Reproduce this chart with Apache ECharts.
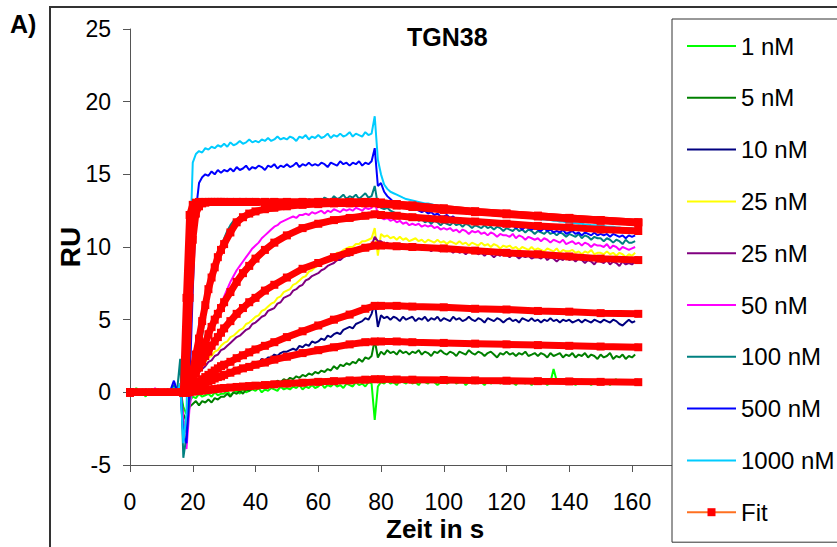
<!DOCTYPE html>
<html>
<head>
<meta charset="utf-8">
<script src="https://cdn.jsdelivr.net/npm/echarts@6/dist/echarts.min.js"></script>
<style>
html,body{margin:0;padding:0;background:#fff;}
#chart{width:837px;height:547px;}
</style>
</head>
<body>
<div id="chart"></div>
<script>
// time grid of the sensorgram (1 s sampling), x in seconds
const dataTimes = Array.from({length:162}, (_, i) => i);

// RU values, one per second, t = 0..161
const ru1nM = [
0.1,-0.2,0.3,-0.1,0.0,-0.3,0.2,-0.1,0.1,-0.2,
0.0,0.2,-0.2,0.1,-0.1,0.2,0.3,-1.0,-1.5,-0.6,
-0.3,-0.4,-0.1,-0.3,-0.2,-0.1,-0.3,0.0,-0.2,-0.1,
-0.1,0.1,-0.2,0.0,0.1,-0.1,0.2,0.0,0.1,0.2,
0.1,0.3,0.0,0.2,0.1,0.3,0.2,0.1,0.4,0.2,
0.3,0.2,0.4,0.3,0.5,0.2,0.4,0.3,0.5,0.3,
0.4,0.6,0.3,0.5,0.4,0.6,0.4,0.5,0.3,0.6,
0.5,0.4,0.7,0.5,0.6,0.4,0.7,0.6,-1.9,0.4,
0.7,0.6,0.8,0.6,0.7,0.5,0.8,0.7,0.6,0.8,
0.6,0.7,0.5,0.8,0.7,0.6,0.9,0.7,0.5,0.7,
0.8,0.6,0.7,0.9,0.6,0.7,0.8,0.5,0.7,0.8,
0.6,0.8,0.7,0.5,0.8,0.6,0.7,0.9,0.6,0.7,
0.8,0.6,0.7,0.5,0.8,0.7,0.6,0.8,0.5,0.7,
0.6,0.8,0.7,0.5,0.7,1.6,0.8,0.6,0.9,0.7,
0.6,0.8,0.5,0.7,0.9,0.6,0.7,0.5,0.8,0.7,
0.6,0.8,0.7,0.5,0.8,0.9,0.6,0.7,0.8,0.6,
0.7,0.8];
const ru5nM = [
-0.1,0.2,0.0,-0.2,0.1,-0.1,0.2,0.0,-0.2,0.1,
-0.1,0.1,-0.2,0.0,0.2,-0.1,0.4,-1.5,-2.0,-1.0,
-0.8,-0.6,-0.9,-0.6,-0.7,-0.5,-0.7,-0.4,-0.5,-0.3,
-0.3,-0.1,-0.3,0.0,-0.1,0.1,-0.1,0.2,0.1,0.3,
0.3,0.5,0.3,0.6,0.5,0.7,0.6,0.8,0.7,0.9,
0.8,1.0,0.9,1.1,1.0,1.2,1.1,1.3,1.2,1.4,
1.3,1.5,1.4,1.6,1.5,1.8,1.6,1.9,1.8,2.0,
1.9,2.1,2.0,2.3,2.1,2.4,2.3,2.5,3.6,2.4,
2.8,2.6,2.9,2.7,2.8,2.6,2.9,2.7,2.8,2.6,
2.8,2.7,2.9,2.6,2.8,2.7,2.5,2.8,2.7,2.9,
2.7,2.6,2.8,2.7,2.5,2.8,2.7,2.6,2.9,2.7,
2.6,2.8,2.7,2.5,2.7,2.8,2.6,2.4,2.7,2.6,
2.8,2.6,2.7,2.5,2.7,2.6,2.8,2.5,2.6,2.7,
2.5,2.7,2.6,2.4,2.7,2.5,2.6,2.7,2.4,2.6,
2.5,2.7,2.4,2.6,2.5,2.7,2.4,2.6,2.5,2.3,
2.6,2.4,2.5,2.7,2.3,2.5,2.4,2.6,2.3,2.5,
2.4,2.6];
const ru10nM = [
0.0,-0.2,0.1,-0.1,0.2,0.0,-0.2,0.1,-0.1,0.2,
0.0,-0.1,0.2,-0.1,0.6,0.1,0.5,-2.0,-2.5,0.0,
0.5,0.7,0.9,0.8,1.0,1.1,0.9,1.2,1.1,1.3,
1.4,1.3,1.5,1.6,1.5,1.7,1.8,1.7,1.9,2.0,
2.1,2.0,2.3,2.2,2.4,2.4,2.6,2.5,2.7,2.8,
2.8,2.9,3.0,2.9,3.2,3.1,3.3,3.2,3.5,3.4,
3.5,3.7,3.6,3.9,3.8,4.0,4.1,4.0,4.3,4.4,
4.5,4.4,4.7,4.8,4.9,5.1,5.0,5.4,6.2,4.5,
5.3,5.1,5.2,5.0,5.2,5.1,4.9,5.2,5.0,5.1,
5.2,4.9,5.1,5.0,5.2,4.9,5.1,5.0,5.2,4.9,
5.1,5.0,4.9,5.2,5.0,5.1,4.9,5.0,5.2,5.0,
4.9,5.1,5.0,4.8,5.1,5.0,4.9,5.1,5.0,4.8,
5.0,5.1,4.9,5.0,4.8,5.1,5.0,4.9,5.1,4.9,
5.0,4.8,5.0,4.9,5.1,4.9,5.0,4.8,5.0,4.9,
5.0,4.8,4.9,5.0,4.8,5.0,4.9,4.8,5.0,4.9,
4.8,5.0,4.9,4.8,5.0,4.9,4.7,4.6,4.8,5.0,
4.8,4.9];
const ru25nMa = [
0.1,-0.1,0.2,0.0,-0.2,0.1,0.0,0.2,-0.1,0.1,
0.0,0.2,-0.1,0.1,0.4,0.0,0.6,-2.0,-2.5,0.2,
1.2,1.4,1.6,1.9,2.1,2.4,2.5,2.8,2.9,3.2,
3.4,3.5,3.8,3.9,4.1,4.3,4.4,4.7,4.8,5.0,
5.2,5.3,5.6,5.7,5.9,6.1,6.2,6.5,6.6,6.9,
7.0,7.1,7.4,7.5,7.7,7.9,8.0,8.3,8.4,8.6,
8.7,8.9,9.0,9.2,9.3,9.4,9.6,9.6,9.8,9.9,
10.0,10.0,10.2,10.2,10.4,10.4,10.5,10.6,11.3,9.4,
10.9,10.7,10.8,10.6,10.7,10.5,10.7,10.5,10.6,10.4,
10.5,10.6,10.4,10.5,10.3,10.5,10.4,10.3,10.5,10.3,
10.4,10.2,10.4,10.3,10.2,10.4,10.2,10.3,10.1,10.3,
10.2,10.1,10.3,10.1,10.2,10.0,10.2,10.1,9.9,10.1,
10.0,10.1,9.9,10.0,9.8,10.0,9.9,9.8,10.0,9.8,
9.9,9.8,9.7,9.9,9.8,9.7,9.9,9.6,9.8,9.7,
9.7,9.8,9.6,9.7,9.5,9.7,9.6,9.8,9.5,9.6,
9.6,9.5,9.7,9.5,9.6,9.4,9.6,9.5,9.3,9.5,
9.4,9.6];
const ru25nMb = [
-0.1,0.1,0.0,-0.2,0.1,0.0,-0.1,0.2,0.0,-0.1,
0.1,0.0,0.2,-0.1,0.3,0.1,0.5,-2.2,-2.8,-0.3,
0.9,1.1,1.4,1.6,1.8,2.1,2.2,2.5,2.6,2.9,
3.0,3.2,3.4,3.6,3.8,3.9,4.1,4.3,4.4,4.7,
4.8,5.0,5.2,5.3,5.6,5.7,5.8,6.1,6.2,6.5,
6.6,6.7,7.0,7.1,7.3,7.4,7.7,7.8,8.0,8.1,
8.2,8.4,8.5,8.7,8.8,8.9,9.1,9.1,9.3,9.4,
9.4,9.6,9.6,9.8,9.8,9.9,10.0,10.1,10.7,10.4,
10.4,10.2,10.3,10.1,10.2,10.0,10.2,10.0,10.1,9.9,
10.1,9.9,10.0,9.8,10.0,9.9,9.7,9.9,9.8,9.7,
9.9,9.7,9.8,9.6,9.8,9.6,9.7,9.5,9.7,9.6,
9.7,9.5,9.6,9.4,9.6,9.5,9.3,9.5,9.4,9.6,
9.5,9.3,9.5,9.4,9.2,9.4,9.3,9.4,9.2,9.3,
9.3,9.2,9.4,9.1,9.3,9.2,9.0,9.2,9.1,9.3,
9.1,9.2,9.0,9.2,9.1,8.9,9.1,9.0,8.8,9.1,
9.0,8.9,9.1,8.8,9.0,8.9,8.7,9.0,8.8,8.9,
8.8,9.0];
const ru50nM = [
0.2,0.0,-0.1,0.1,-0.2,0.2,0.0,-0.1,0.3,0.0,
-0.1,0.2,0.0,0.1,0.7,0.0,0.6,-2.0,-3.9,-1.0,
0.3,1.0,1.6,2.1,2.8,3.5,4.2,4.8,5.4,6.0,
6.6,7.1,7.6,8.0,8.4,8.7,9.0,9.3,9.6,9.9,
10.1,10.3,10.6,10.8,11.0,11.2,11.4,11.5,11.7,11.8,
11.9,12.0,12.1,12.0,12.2,12.2,12.3,12.2,12.4,12.3,
12.4,12.5,12.3,12.5,12.4,12.6,12.5,12.4,12.6,12.5,
12.6,12.5,12.7,12.6,12.5,12.7,12.6,12.7,13.2,12.2,
12.0,11.9,12.0,11.8,11.9,11.7,11.8,11.6,11.7,11.5,
11.6,11.5,11.6,11.4,11.5,11.4,11.5,11.3,11.4,11.2,
11.3,11.2,11.3,11.1,11.2,11.0,11.2,11.1,10.9,11.1,
11.0,11.1,10.9,11.0,10.8,11.0,10.9,10.7,10.9,10.8,
10.8,10.7,10.9,10.6,10.8,10.7,10.5,10.7,10.6,10.5,
10.6,10.4,10.6,10.5,10.3,10.5,10.4,10.3,10.5,10.2,
10.3,10.4,10.2,10.3,10.1,10.3,10.2,10.0,10.2,10.1,
10.1,10.0,10.2,9.9,10.1,10.0,9.8,10.0,9.9,9.8,
9.9,10.0];
const ru100nM = [
0.0,0.2,-0.1,0.1,0.0,-0.2,0.1,0.2,-0.1,0.0,
0.1,-0.1,0.2,0.0,0.5,0.1,2.3,-4.5,-3.0,-0.5,
0.4,1.2,2.5,3.9,5.4,6.7,7.9,8.7,9.4,10.0,
10.6,11.1,11.5,11.8,11.9,12.1,12.0,12.2,12.1,12.3,
12.4,12.3,12.5,12.6,12.5,12.7,12.6,12.8,12.7,12.9,
13.0,12.9,13.1,13.0,13.2,13.1,13.0,13.3,13.2,13.1,
13.3,13.2,13.4,13.3,13.2,13.5,13.3,13.4,13.6,13.3,
13.5,13.4,13.6,13.3,13.5,13.7,13.4,13.5,14.2,12.9,
12.7,12.6,12.7,12.5,12.4,12.3,12.2,12.2,12.0,12.1,
11.9,12.0,11.8,11.9,11.7,11.8,11.6,11.8,11.7,11.5,
11.7,11.6,11.5,11.7,11.5,11.6,11.4,11.6,11.5,11.3,
11.5,11.4,11.3,11.5,11.3,11.4,11.2,11.4,11.3,11.1,
11.3,11.2,11.1,11.3,11.1,11.2,11.0,11.2,11.1,10.9,
11.1,11.0,10.9,11.1,10.9,11.0,10.8,11.0,10.9,10.7,
10.9,10.8,10.7,10.9,10.6,10.8,10.7,10.5,10.7,10.6,
10.6,10.4,10.6,10.5,10.3,10.5,10.4,10.2,10.5,10.3,
10.3,10.4];
const ru500nM = [
0.1,-0.1,0.2,0.0,-0.1,0.2,0.1,-0.2,0.0,0.2,
-0.1,0.1,0.0,0.2,0.8,0.1,0.5,-3.0,-3.5,0.5,
7.0,12.5,14.4,14.8,15.0,14.9,15.2,15.0,15.3,15.1,
15.3,15.2,15.4,15.2,15.5,15.3,15.4,15.6,15.3,15.5,
15.4,15.6,15.5,15.3,15.6,15.5,15.7,15.4,15.6,15.5,
15.7,15.5,15.6,15.8,15.5,15.7,15.6,15.8,15.6,15.7,
15.6,15.8,15.7,15.5,15.8,15.7,15.6,15.9,15.7,15.8,
15.6,15.8,15.7,15.9,15.6,15.8,15.7,15.9,16.8,14.2,
14.4,13.8,13.5,13.3,13.1,13.0,12.9,12.8,12.7,12.7,
12.6,12.6,12.5,12.4,12.5,12.3,12.4,12.2,12.3,12.1,
12.1,12.2,12.0,12.1,11.9,12.0,11.9,11.8,11.9,11.7,
11.8,11.7,11.8,11.6,11.7,11.5,11.6,11.5,11.6,11.4,
11.5,11.4,11.5,11.3,11.4,11.2,11.4,11.3,11.2,11.3,
11.2,11.1,11.3,11.1,11.2,11.0,11.1,11.0,11.2,10.9,
11.0,11.1,10.9,11.0,10.8,11.0,10.9,10.8,11.0,10.8,
10.9,10.8,10.9,10.7,10.9,10.8,10.7,10.8,10.6,10.8,
10.7,10.8];
const ru1000nM = [
-0.1,0.1,0.0,-0.2,0.1,-0.1,0.0,0.1,-0.2,0.0,
0.1,-0.1,0.0,0.1,0.3,0.0,0.6,-3.5,-1.5,9.0,
15.8,16.4,16.6,16.5,16.8,16.7,16.9,16.8,17.0,16.9,
17.1,16.9,17.2,17.0,17.1,17.3,17.1,17.2,17.4,17.2,
17.3,17.2,17.4,17.3,17.5,17.3,17.4,17.6,17.4,17.5,
17.4,17.6,17.5,17.3,17.6,17.5,17.7,17.4,17.6,17.5,
17.7,17.5,17.6,17.8,17.5,17.7,17.6,17.8,17.6,17.7,
17.9,17.6,17.8,17.7,17.6,17.9,17.7,17.8,19.0,16.0,
15.0,14.3,14.0,13.8,13.7,13.6,13.5,13.4,13.3,13.25,
13.2,13.15,13.1,13.05,13.0,13.0,12.95,12.9,12.85,12.8,
12.8,12.75,12.7,12.7,12.65,12.6,12.6,12.55,12.5,12.5,
12.45,12.4,12.4,12.35,12.35,12.3,12.3,12.25,12.25,12.2,
12.2,12.15,12.15,12.1,12.1,12.05,12.05,12.0,12.0,11.95,
11.95,11.9,11.9,11.85,11.85,11.8,11.8,11.75,11.75,11.7,
11.7,11.65,11.65,11.6,11.6,11.55,11.55,11.5,11.5,11.5,
11.45,11.45,11.4,11.4,11.4,11.35,11.35,11.3,11.3,11.3,
11.3,11.25];

// fitted curves, sampled at these times (s)
const fitTimes = [0,17,18,19,20,21,22,23,24,25,26,27,28,29,30,32,34,36,38,40,43,46,50,55,60,65,70,75,78,80,85,90,100,110,120,130,140,150,162];
const fit1000 = [0,0,6.5,12.2,12.9,13.05,13.1,13.1,13.1,13.1,13.1,13.1,13.1,13.1,13.1,13.1,13.1,13.1,13.1,13.1,13.1,13.1,13.1,13.1,13.1,13.1,13.1,13.1,13.1,13.05,12.95,12.85,12.65,12.45,12.3,12.15,12.0,11.85,11.7];
const fit500  = [0,0,1.5,6.5,10.5,12.3,12.8,13.0,13.05,13.1,13.1,13.1,13.1,13.1,13.1,13.1,13.1,13.1,13.1,13.1,13.1,13.1,13.1,13.1,13.1,13.1,13.1,13.1,13.1,13.05,12.95,12.85,12.65,12.45,12.3,12.15,12.0,11.85,11.7];
const fit100  = [0,0,0,0.7,1.5,2.6,3.7,4.9,6.0,7.1,7.9,8.6,9.3,9.8,10.2,11.0,11.7,12.05,12.3,12.45,12.6,12.7,12.8,12.9,12.95,13.0,13.0,13.0,13.0,12.95,12.85,12.75,12.55,12.4,12.25,12.1,11.95,11.8,11.65];
const fit50   = [0,0,0,0.5,1.1,1.7,2.3,2.9,3.4,4.0,4.5,5.0,5.4,5.8,6.2,6.9,7.6,8.2,8.7,9.2,9.8,10.3,10.8,11.3,11.6,11.85,12.0,12.15,12.25,12.2,12.15,12.05,11.9,11.75,11.6,11.45,11.35,11.2,11.1];
const fit25   = [0,0,0,0.4,0.9,1.3,1.7,2.1,2.5,2.8,3.2,3.5,3.8,4.1,4.4,4.9,5.4,5.8,6.2,6.5,7.0,7.4,7.9,8.5,8.9,9.3,9.65,9.95,10.1,10.1,10.05,10.0,9.9,9.75,9.6,9.5,9.35,9.2,9.1];
const fit10   = [0,0,0,0.2,0.4,0.55,0.75,0.9,1.05,1.2,1.35,1.5,1.65,1.8,1.9,2.1,2.35,2.55,2.75,2.95,3.2,3.45,3.8,4.2,4.6,5.0,5.35,5.75,5.95,5.95,5.95,5.9,5.85,5.75,5.7,5.6,5.55,5.45,5.4];
const fit5    = [0,0,0,0.1,0.25,0.35,0.45,0.55,0.65,0.75,0.85,0.95,1.05,1.1,1.2,1.35,1.5,1.65,1.75,1.9,2.05,2.25,2.45,2.7,2.9,3.1,3.3,3.45,3.5,3.5,3.5,3.45,3.4,3.35,3.3,3.25,3.2,3.15,3.1];
const fit1    = [0,0,0,0.02,0.05,0.08,0.1,0.12,0.15,0.17,0.2,0.22,0.25,0.27,0.3,0.33,0.37,0.4,0.43,0.46,0.5,0.55,0.6,0.66,0.72,0.77,0.82,0.87,0.9,0.9,0.88,0.87,0.85,0.82,0.8,0.77,0.75,0.72,0.7];

// axis ticks
const xTicks = [0,20,40,60,80,100,120,140,160,180];
const yTicks = [-5,0,5,10,15,20,25];

const FONT = 'Liberation Sans, Arial, sans-serif';
const LINE_ICON = 'path://M0,0 L49,0 L49,2 L0,2 Z';

const measured = [
  {name:'1 nM',       color:'#00FF00', values:ru1nM},
  {name:'5 nM',       color:'#008000', values:ru5nM},
  {name:'10 nM',      color:'#000080', values:ru10nM},
  {name:'25 nM',      color:'#FFFF00', values:ru25nMa},
  {name:'25 nM (2)',  color:'#800080', values:ru25nMb},
  {name:'50 nM',      color:'#FF00FF', values:ru50nM},
  {name:'100 nM',     color:'#008080', values:ru100nM},
  {name:'500 nM',     color:'#0000FF', values:ru500nM},
  {name:'1000 nM',    color:'#00CCFF', values:ru1000nM}
];
const fits = [fit1, fit5, fit10, fit25, fit50, fit100, fit500, fit1000];

const series = [];
measured.forEach(m => {
  series.push({
    name: m.name, type:'line', symbol:'none', showSymbol:false,
    color: m.color,
    itemStyle:{color:m.color},
    lineStyle:{color:m.color, width:2},
    data: m.values.map((v,i) => [dataTimes[i], v]),
    animation:false, silent:true
  });
});
fits.forEach((f, k) => {
  series.push({
    name: 'fitcurve' + k, type:'line', symbol:'rect', symbolSize:8, showSymbol:true,
    color:'#FF0000',
    itemStyle:{color:'#FF0000'},
    lineStyle:{color:'#FF0000', width:7, join:'bevel'},
    data: f.map((v,i) => [fitTimes[i], v]),
    animation:false, silent:true, z:3
  });
});
// legend entry for the fit
series.push({
  name:'Fit', type:'line', symbol:'rect', symbolSize:8,
  itemStyle:{color:'#FF0000'},
  lineStyle:{color:'#FF7020', width:2},
  data:[], animation:false
});

const legendData = measured.map(m => ({name:m.name, icon:LINE_ICON}));
legendData.push({name:'Fit'});

const chart = echarts.init(document.getElementById('chart'), null, {renderer:'svg'});
chart.setOption({
  backgroundColor:'#fff',
  animation:false,
  textStyle:{fontFamily:FONT},
  graphic:[{
    type:'rect', z:-10, silent:true,
    shape:{x:50, y:7, width:900, height:700},
    style:{fill:'none', stroke:'#333', lineWidth:2}
  }],
  title:[
    {text:'A)', left:10, top:11, padding:0, textStyle:{fontSize:25, fontWeight:'bold', color:'#000', fontFamily:FONT}},
    {text:'TGN38', left:407, top:24, padding:0, textStyle:{fontSize:25, fontWeight:'bold', color:'#000', fontFamily:FONT}},
    {text:'Zeit in s', left:386, top:516, padding:0, textStyle:{fontSize:26, fontWeight:'bold', color:'#000', fontFamily:FONT}}
  ],
  grid:{left:130, top:29, right:142.25, bottom:82, containLabel:false},
  xAxis:{
    type:'value', min:xTicks[0], max:xTicks[xTicks.length-1], interval:20,
    axisLine:{show:true, onZero:false, lineStyle:{color:'#555', width:1}},
    axisTick:{show:true, length:7, lineStyle:{color:'#555'}},
    splitLine:{show:false},
    axisLabel:{fontSize:23, color:'#000', margin:25, fontFamily:FONT}
  },
  yAxis:{
    type:'value', min:yTicks[0], max:yTicks[yTicks.length-1], interval:5,
    name:'RU', nameLocation:'middle', nameRotate:90, nameGap:46, nameMoveOverlap:false,
    nameTextStyle:{fontSize:28, fontWeight:'bold', color:'#000', fontFamily:FONT},
    axisLine:{show:true, lineStyle:{color:'#555', width:1}},
    axisTick:{show:true, length:7, lineStyle:{color:'#555'}},
    splitLine:{show:false},
    axisLabel:{fontSize:23, color:'#000', margin:19, fontFamily:FONT}
  },
  legend:{
    orient:'vertical', left:672, top:19,
    data: legendData,
    formatter: n => n.replace(' (2)', ''),
    selectedMode:false,
    symbolKeepAspect:true,
    backgroundColor:'#fff', borderColor:'#333', borderWidth:1,
    padding:[15, 40, 18, 14],
    itemWidth:49, itemHeight:10, itemGap:27.8,
    textStyle:{fontSize:24, lineHeight:24, color:'#000', fontFamily:FONT}
  },
  series: series
});
</script>
</body>
</html>
